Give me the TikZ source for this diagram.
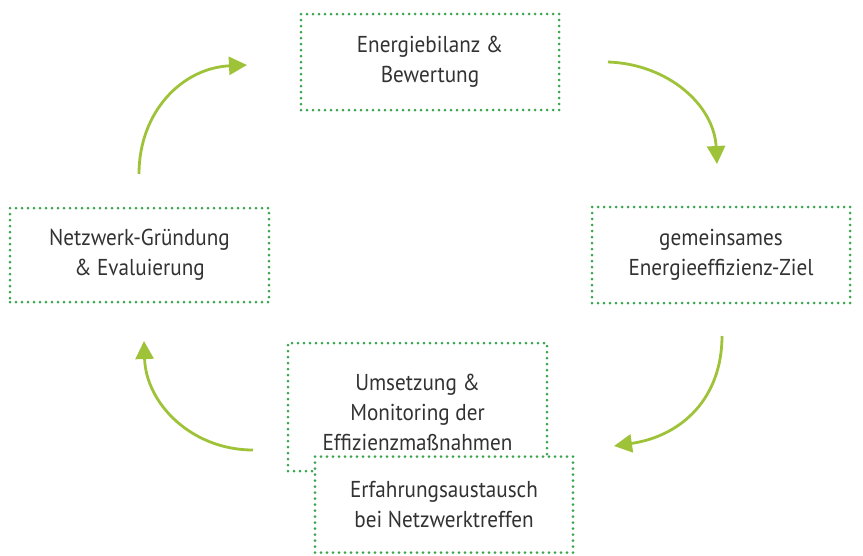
\documentclass[tikz,border=0pt]{standalone}
\usepackage{fontspec}
\setmainfont[FakeStretch=0.92]{PT Sans}
\usetikzlibrary{arrows.meta}
\definecolor{dotgreen}{RGB}{60,165,80}
\definecolor{arrowgreen}{RGB}{158,194,56}
\definecolor{txtgray}{RGB}{50,50,50}
\tikzset{
  stepbox/.style={draw=dotgreen, line width=3pt, dash pattern=on 0pt off 6pt, line cap=round,
    rectangle, inner sep=0pt, minimum width=258pt, minimum height=96pt},
  boxtext/.style={text=txtgray, align=center, font=\fontsize{23}{30}\selectfont, inner sep=0pt},
  cyc/.style={draw=arrowgreen, line width=2.8pt, -{Triangle[length=18pt,width=18pt]}}
}
\begin{document}
\begin{tikzpicture}[x=1pt,y=-1pt]
\useasboundingbox (0,0) rectangle (863,555);
% boxes
\node[stepbox] (top) at (430,62) {};
\node[stepbox] (right) at (721,255) {};
\node[stepbox, minimum width=259pt, minimum height=94pt] (left) at (139.5,255) {};
\node[stepbox, minimum width=259pt, minimum height=128pt] (impl) at (417.5,407) {};
\node[stepbox, fill=white] (exch) at (444,504.5) {};
% texts
\node[boxtext] (toptext) at (top.center) {Energiebilanz \&\\Bewertung};
\node[boxtext] (righttext) at (right.center) {gemeinsames\\Energieeffizienz-Ziel};
\node[boxtext] (lefttext) at (left.center) {Netzwerk-Gründung\\\& Evaluierung};
\node[boxtext] (impltext) at (417.5,412) {Umsetzung \&\\Monitoring der\\Effizienzmaßnahmen};
\node[boxtext] (exchtext) at (exch.center) {Erfahrungsaustausch\\bei Netzwerktreffen};
% arrow end points
\coordinate (a1s) at (139,174);
\coordinate (a1e) at (247,65);
\coordinate (a2s) at (608,62);
\coordinate (a2e) at (717,164);
\coordinate (a3s) at (722,336);
\coordinate (a3e) at (614,446);
\coordinate (a4s) at (253,450);
\coordinate (a4e) at (144,341);
\draw[cyc] (a1s) .. controls (139,112) and (182,68) .. (a1e);
\draw[cyc] (a2s) .. controls (668,64) and (714,105) .. (a2e);
\draw[cyc] (a3s) .. controls (722,398) and (682,436) .. (a3e);
\draw[cyc] (a4s) .. controls (192,450) and (146,404) .. (a4e);
\end{tikzpicture}
\end{document}
